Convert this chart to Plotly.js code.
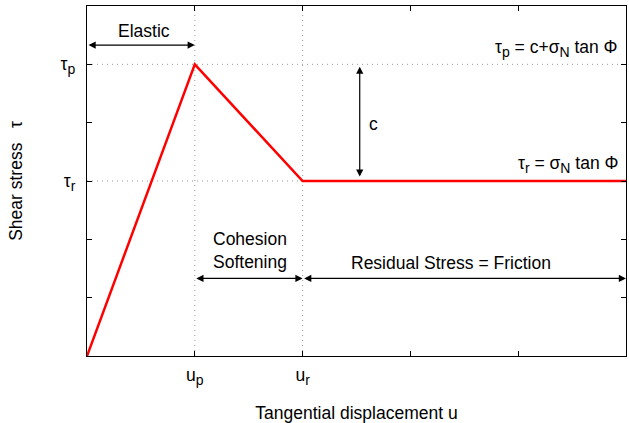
<!DOCTYPE html>
<html>
<head>
<meta charset="utf-8">
<script src="https://cdn.plot.ly/plotly-3.0.1.min.js"></script>
<style>
  html, body { margin: 0; padding: 0; background: #fff; }
  #chart { width: 629px; height: 423px; }
</style>
</head>
<body>
<div id="chart"></div>
<script>
// Shear stress vs. tangential displacement (peak / residual model)
const uDisp = [0, 1, 2, 5];          // 0, u_p, u_r, end of axis
const tau   = [0, 5, 3, 3];          // 0, tau_p, tau_r, tau_r

const sub = s => '<sub><span style="font-size:14px">' + s + '</span></sub>';
const xTickVals = [0, 1, 2, 3, 4, 5];
const xTickText = ['', 'u' + sub('p'), 'u' + sub('r'), '', '', ''];
const yTickVals = [0, 1, 2, 3, 4, 5, 6];
const yTickText = ['', '', '', 'τ' + sub('r'), '', 'τ' + sub('p'), ''];

const uPeak = uDisp[1], uRes = uDisp[2], uEnd = uDisp[3];
const tauPeak = tau[1], tauRes = tau[2];
const yMax = 6;

const FONT = 'Liberation Sans, Arial, Helvetica, sans-serif';
const FS = 17.5;

const trace = {
  x: uDisp,
  y: tau,
  type: 'scatter',
  mode: 'lines',
  line: { color: '#ff0000', width: 2.5 },
  hoverinfo: 'skip'
};

const dotLine = { color: '#999999', width: 1, dash: '1px,4px' };
const shapes = [
  { type: 'line', xref: 'x', yref: 'y', x0: uPeak, x1: uPeak, y0: 0, y1: yMax, line: dotLine, layer: 'below' },
  { type: 'line', xref: 'x', yref: 'y', x0: uRes, x1: uRes, y0: 0, y1: yMax, line: dotLine, layer: 'below' },
  { type: 'line', xref: 'x', yref: 'y', x0: 0, x1: uEnd, y0: tauPeak, y1: tauPeak, line: dotLine, layer: 'below' },
  { type: 'line', xref: 'x', yref: 'y', x0: 0, x1: uRes, y0: tauRes, y1: tauRes, line: dotLine, layer: 'below' }
];

// double-headed arrow between two data points
function span(x0, y0, x1, y1) {
  return {
    x: x1, y: y1, ax: x0, ay: y0,
    xref: 'x', yref: 'y', axref: 'x', ayref: 'y',
    text: '', showarrow: true,
    arrowhead: 2, startarrowhead: 2, arrowside: 'end+start',
    arrowsize: 1.2, startarrowsize: 1.2, arrowwidth: 1.2,
    arrowcolor: '#000', standoff: 0, startstandoff: 0
  };
}
function label(x, y, text, opts) {
  return Object.assign({
    x: x, y: y, xref: 'x', yref: 'y', text: text, showarrow: false,
    font: { family: FONT, size: FS, color: '#000' }
  }, opts || {});
}

const arrowY1 = 5.33, arrowY2 = 1.33, cX = 2.53;
const annotations = [
  span(uDisp[0], arrowY1, uPeak, arrowY1),
  label(0.53, 5.58, 'Elastic'),
  span(cX, tauRes + 0.05, cX, tauPeak - 0.04),
  label(2.66, 3.98, 'c'),
  label(4.94, 5.27, 'τ' + sub('p') + ' = c+σ' + sub('N') + ' tan Φ', { xanchor: 'right' }),
  label(4.94, 3.29, 'τ' + sub('r') + ' = σ' + sub('N') + ' tan Φ', { xanchor: 'right' }),
  span(uPeak, arrowY2, uRes, arrowY2),
  label(1.51, 1.81, 'Cohesion<br>Softening'),
  span(uRes, arrowY2, uEnd, arrowY2),
  label(3.38, 1.6, 'Residual Stress = Friction')
];

const axisCommon = {
  showgrid: false,
  zeroline: false,
  showline: true,
  linecolor: '#000',
  linewidth: 1.2,
  mirror: 'ticks',
  ticks: 'inside',
  ticklen: 5,
  tickcolor: '#000',
  tickmode: 'array',
  tickfont: { family: FONT, size: FS, color: '#000' },
  automargin: false,
  fixedrange: true
};

const layout = {
  width: 629,
  height: 423,
  margin: { l: 87, r: 3, t: 6, b: 67 },
  paper_bgcolor: '#fff',
  plot_bgcolor: '#fff',
  showlegend: false,
  font: { family: FONT, size: FS, color: '#000' },
  xaxis: Object.assign({}, axisCommon, {
    range: [0, uEnd],
    tickvals: xTickVals,
    ticktext: xTickText,
    ticklabelstandoff: 3,
    title: { text: 'Tangential displacement u', font: { family: FONT, size: FS, color: '#000' }, standoff: 19 }
  }),
  yaxis: Object.assign({}, axisCommon, {
    range: [0, yMax],
    tickvals: yTickVals,
    ticktext: yTickText,
    ticklabelstandoff: 7,
    title: { text: 'Shear stress   τ', font: { family: FONT, size: FS, color: '#000' }, standoff: 33 }
  }),
  shapes: shapes,
  annotations: annotations
};

Plotly.newPlot('chart', [trace], layout, { staticPlot: true, displayModeBar: false });
</script>
</body>
</html>
